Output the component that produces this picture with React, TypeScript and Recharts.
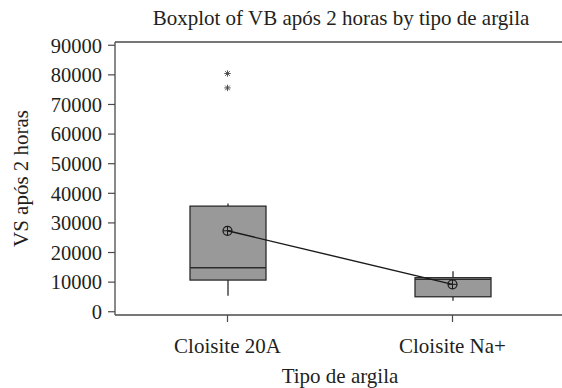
import {
    ComposedChart,
    Bar,
    Line,
    Scatter,
    XAxis,
    YAxis,
    ReferenceLine,
    Label,
} from "recharts";

// Boxplot statistics
const categories = ["Cloisite 20A", "Cloisite Na+"];
const whiskerLow = [5400, 3700];
const q1 = [10700, 5060];
const median = [14850, 10900];
const q3 = [35670, 11500];
const whiskerHigh = [36580, 13700];
const means = [27340, 9250];
const outlierA = [80460, null];
const outlierB = [75600, null];
const yTicks = [0, 10000, 20000, 30000, 40000, 50000, 60000, 70000, 80000, 90000];
const yDomain = [-1100, 91100];

const COLORS = {
    text: "#231f20",
    axis: "#4a4a4a",
    boxFill: "#999999",
    boxStroke: "#2b2b2b",
    mean: "#1a1a1a",
    outlier: "#444444",
};

const FONT = "Liberation Serif";

const data = categories.map((name, i) => ({
    name,
    box: [q1[i], q3[i]],
    lo: whiskerLow[i],
    med: median[i],
    hi: whiskerHigh[i],
    mean: means[i],
    outA: outlierA[i],
    outB: outlierB[i],
}));

// Draws the box, median and whiskers; scale is taken from the bar's own q1..q3 geometry
function BoxShape(props: any) {
    const { x, y, width, height, payload } = props;
    const [low, high] = payload.box;
    const top = Math.min(y, y + height);
    const h = Math.abs(height);
    const pxPerUnit = h / (high - low);
    const toY = (v: number) => top + (high - v) * pxPerUnit;
    const cx = x + width / 2;
    return (
        <g>
            <line x1={cx} x2={cx} y1={toY(payload.hi)} y2={top} stroke={COLORS.boxStroke} strokeWidth={1.3} />
            <line x1={cx} x2={cx} y1={top + h} y2={toY(payload.lo)} stroke={COLORS.boxStroke} strokeWidth={1.3} />
            <rect x={x} y={top} width={width} height={h} fill={COLORS.boxFill} stroke={COLORS.boxStroke} strokeWidth={1.3} />
            <line x1={x} x2={x + width} y1={toY(payload.med)} y2={toY(payload.med)} stroke={COLORS.boxStroke} strokeWidth={1.3} />
        </g>
    );
}

function MeanDot(props: any) {
    const { cx, cy } = props;
    if (cx == null || cy == null) return null;
    const r = 4.5;
    return (
        <g key={`m-${cx}`}>
            <circle cx={cx} cy={cy} r={r} fill="none" stroke={COLORS.mean} strokeWidth={1.2} />
            <line x1={cx - r} x2={cx + r} y1={cy} y2={cy} stroke={COLORS.mean} strokeWidth={1} />
            <line x1={cx} x2={cx} y1={cy - r} y2={cy + r} stroke={COLORS.mean} strokeWidth={1} />
        </g>
    );
}

function Asterisk(props: any) {
    const { cx, cy, payload, dataKey } = props;
    if (cx == null || cy == null || !Number.isFinite(cy)) return null;
    if (payload && dataKey && payload[dataKey] == null) return null;
    const r = 3.2;
    const d = r * 0.72;
    return (
        <g stroke={COLORS.outlier} strokeWidth={0.9}>
            <line x1={cx} x2={cx} y1={cy - r} y2={cy + r} />
            <line x1={cx - r} x2={cx + r} y1={cy} y2={cy} />
            <line x1={cx - d} x2={cx + d} y1={cy - d} y2={cy + d} />
            <line x1={cx - d} x2={cx + d} y1={cy + d} y2={cy - d} />
        </g>
    );
}

export default function App() {
    return (
        <div style={styles.page}>
            <div style={styles.title}>Boxplot of VB após 2 horas by tipo de argila</div>
            <ComposedChart
                width={565}
                height={388}
                data={data}
                margin={{ top: 42, right: 0, bottom: 0, left: 0 }}
            >
                <XAxis
                    dataKey="name"
                    height={73}
                    axisLine={{ stroke: COLORS.axis, strokeWidth: 1.3 }}
                    tickLine={{ stroke: COLORS.axis, strokeWidth: 1.2 }}
                    tickSize={7}
                    tickMargin={16}
                    tick={{ fill: COLORS.text, fontSize: 21, fontFamily: FONT }}
                >
                    <Label
                        value="Tipo de argila"
                        position="insideBottom"
                        offset={5}
                        fontFamily={FONT}
                        fill={COLORS.text}
                        fontSize={21}
                    />
                </XAxis>
                <YAxis
                    type="number"
                    width={115}
                    domain={yDomain}
                    ticks={yTicks}
                    interval={0}
                    axisLine={{ stroke: COLORS.axis, strokeWidth: 1.3 }}
                    tickLine={{ stroke: COLORS.axis, strokeWidth: 1.2 }}
                    tickSize={7}
                    tickMargin={6}
                    tick={{ fill: COLORS.text, fontSize: 20.5, fontFamily: FONT }}
                >
                    <Label
                        value="VS após 2 horas"
                        angle={-90}
                        position="insideLeft"
                        offset={21}
                        fontFamily={FONT}
                        fill={COLORS.text}
                        fontSize={21}
                        textAnchor="middle"
                    />
                </YAxis>
                {/* top frame line */}
                <ReferenceLine y={yDomain[1]} stroke={COLORS.axis} strokeWidth={1.3} />
                <Bar dataKey="box" barSize={76} shape={BoxShape} isAnimationActive={false} />
                <Line
                    dataKey="mean"
                    stroke={COLORS.mean}
                    strokeWidth={1.4}
                    dot={MeanDot}
                    activeDot={false}
                    isAnimationActive={false}
                />
                <Scatter dataKey="outA" shape={(p: any) => <Asterisk {...p} dataKey="outA" />} isAnimationActive={false} />
                <Scatter dataKey="outB" shape={(p: any) => <Asterisk {...p} dataKey="outB" />} isAnimationActive={false} />
            </ComposedChart>
        </div>
    );
}

const styles: Record<string, React.CSSProperties> = {
    page: {
        position: "absolute",
        left: 0,
        top: 0,
        width: 562,
        height: 388,
        overflow: "hidden",
        background: "#ffffff",
    },
    title: {
        position: "absolute",
        left: 115,
        top: 8,
        width: 452,
        textAlign: "center",
        fontFamily: FONT,
        fontSize: 21,
        lineHeight: "21px",
        color: COLORS.text,
        whiteSpace: "nowrap",
    },
};
